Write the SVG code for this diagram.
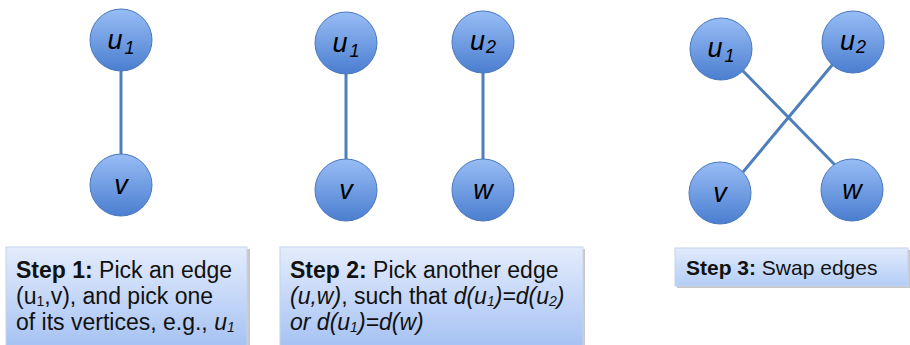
<svg xmlns="http://www.w3.org/2000/svg" width="910" height="345" viewBox="0 0 910 345">
<defs>
<linearGradient id="gNode" x1="0" y1="0" x2="0" y2="1">
<stop offset="0" stop-color="#98bdf5"/>
<stop offset="1" stop-color="#4b7ed0"/>
</linearGradient>
<linearGradient id="gBox" x1="0" y1="0" x2="0" y2="1">
<stop offset="0" stop-color="#e4ecfc"/>
<stop offset="1" stop-color="#a6c2f3"/>
</linearGradient>
<linearGradient id="gBox3" x1="0" y1="0" x2="0" y2="1">
<stop offset="0" stop-color="#e2ebfc"/>
<stop offset="1" stop-color="#b3cdf6"/>
</linearGradient>
</defs>
<style>
.node{fill:url(#gNode);stroke:#4a78bd;stroke-width:1}
.lbl{font-family:"Liberation Sans",Arial,sans-serif;font-style:italic;font-size:27px;fill:#000;text-anchor:middle}
.sub{font-size:18px}
.edge{stroke:#4f7fba;stroke-width:3;fill:none}
.box{fill:url(#gBox);stroke:#c6d4ea;stroke-width:1}
.shadow{fill:#c8c8c8}
.txt{font-family:"Liberation Sans",Arial,sans-serif;font-size:23px;fill:#111}
.t3{font-size:21px}
.b{font-weight:bold}
.i{font-style:italic}
.s{font-size:14px}
</style>
<g id="connectors">
<line class="edge" x1="121" y1="70" x2="121" y2="154"/>
<line class="edge" x1="346" y1="73" x2="346" y2="160"/>
<line class="edge" x1="483" y1="72" x2="483" y2="161"/>
<line class="edge" x1="743" y1="71" x2="836" y2="166"/>
<line class="edge" x1="833" y1="64" x2="743" y2="172"/>
</g>
<g id="s1-u1"><circle class="node" cx="121" cy="40" r="31"/><text class="lbl" x="121" y="49">u<tspan class="sub" dx="2" dy="5">1</tspan></text></g>
<g id="s1-v"><circle class="node" cx="121" cy="185" r="31"/><text class="lbl" x="121" y="194">v</text></g>
<g id="s2-u1"><circle class="node" cx="346" cy="43" r="31"/><text class="lbl" x="346" y="52">u<tspan class="sub" dx="2" dy="5">1</tspan></text></g>
<g id="s2-v"><circle class="node" cx="346" cy="190" r="31"/><text class="lbl" x="346" y="199">v</text></g>
<g id="s2-u2"><circle class="node" cx="483" cy="42" r="31"/><text class="lbl" x="483" y="50">u<tspan class="sub" dx="1" dy="3">2</tspan></text></g>
<g id="s2-w"><circle class="node" cx="483" cy="190" r="31"/><text class="lbl" x="483" y="199">w</text></g>
<g id="s3-u1"><circle class="node" cx="721" cy="49" r="31"/><text class="lbl" x="721" y="57">u<tspan class="sub" dx="2" dy="5">1</tspan></text></g>
<g id="s3-u2"><circle class="node" cx="853" cy="42" r="31"/><text class="lbl" x="853" y="50">u<tspan class="sub" dx="1" dy="3">2</tspan></text></g>
<g id="s3-v"><circle class="node" cx="720" cy="193" r="31"/><text class="lbl" x="720" y="202">v</text></g>
<g id="s3-w"><circle class="node" cx="852" cy="190" r="31"/><text class="lbl" x="852" y="199">w</text></g>
<g id="step1">
<rect class="shadow" x="8" y="249" width="242" height="100"/>
<rect class="box" x="6" y="247" width="241" height="100"/>
<text class="txt" x="16" y="278"><tspan class="b">Step 1:</tspan> Pick an edge</text>
<text class="txt" x="16" y="304">(u<tspan class="s" dy="2">1</tspan><tspan dy="-2">,v), and pick one</tspan></text>
<text class="txt" x="16" y="330">of its vertices, e.g., <tspan class="i">u</tspan><tspan class="i s" dy="2">1</tspan></text>
</g>
<g id="step2">
<rect class="shadow" x="282" y="249" width="303" height="100"/>
<rect class="box" x="280" y="247" width="303" height="100"/>
<text class="txt" x="290" y="278"><tspan class="b">Step 2:</tspan> Pick another edge</text>
<text class="txt" x="290" y="304"><tspan class="i">(u,w)</tspan>, such that <tspan class="i">d(u</tspan><tspan class="i s" dy="2">1</tspan><tspan class="i" dy="-2">)=d(u</tspan><tspan class="i s" dy="2">2</tspan><tspan class="i" dy="-2">)</tspan></text>
<text class="txt" x="290" y="330"><tspan class="i">or d(u</tspan><tspan class="i s" dy="2">1</tspan><tspan class="i" dy="-2">)=d(w)</tspan></text>
</g>
<g id="step3">
<rect class="shadow" x="677" y="250" width="233" height="38"/>
<rect x="675" y="248" width="233" height="38" fill="url(#gBox3)" stroke="#c6d4ea" stroke-width="1"/>
<text class="txt t3" x="686" y="275"><tspan class="b">Step 3:</tspan> Swap edges</text>
</g>
</svg>
